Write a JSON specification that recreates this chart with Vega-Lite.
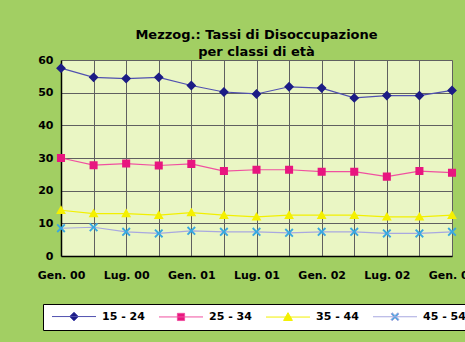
{
  "$schema": "https://vega.github.io/schema/vega-lite/v6.json",
  "autosize": "none",
  "width": 391,
  "height": 196,
  "padding": {"left": 61, "top": 60, "right": 13, "bottom": 86},
  "background": "#a2cf63",
  "title": {
    "text": ["Mezzog.: Tassi di Disoccupazione", "per classi di età"],
    "font": "DejaVu Sans",
    "fontSize": 13,
    "fontWeight": "bold",
    "lineHeight": 17,
    "color": "black",
    "anchor": "middle",
    "offset": -5
  },
  "config": {
    "view": {"fill": "#eaf6c4", "stroke": null},
    "axis": {
      "labelFont": "DejaVu Sans",
      "labelFontWeight": "bold",
      "labelFontSize": 11,
      "labelColor": "black",
      "gridColor": "#606060",
      "gridWidth": 1,
      "gridOpacity": 1,
      "domainColor": "black",
      "domainWidth": 1.5,
      "ticks": false,
      "title": null
    },
    "legend": {
      "title": null,
      "orient": "none",
      "direction": "horizontal",
      "legendX": -18,
      "legendY": 244,
      "fillColor": "white",
      "strokeColor": "black",
      "padding": 7,
      "symbolSize": 64,
      "symbolStrokeWidth": 1,
      "symbolOffset": 18.5,
      "labelOffset": 22.5,
      "columnPadding": 12,
      "labelFont": "DejaVu Sans",
      "labelFontWeight": "bold",
      "labelFontSize": 11,
      "labelColor": "black"
    }
  },
  "data": {
    "values": [
      {"periodo": "Gen. 00", "serie": "15 - 24", "valore": 57.5},
      {"periodo": "Apr. 00", "serie": "15 - 24", "valore": 54.7},
      {"periodo": "Lug. 00", "serie": "15 - 24", "valore": 54.3},
      {"periodo": "Ott. 00", "serie": "15 - 24", "valore": 54.7},
      {"periodo": "Gen. 01", "serie": "15 - 24", "valore": 52.2},
      {"periodo": "Apr. 01", "serie": "15 - 24", "valore": 50.2},
      {"periodo": "Lug. 01", "serie": "15 - 24", "valore": 49.6},
      {"periodo": "Ott. 01", "serie": "15 - 24", "valore": 51.8},
      {"periodo": "Gen. 02", "serie": "15 - 24", "valore": 51.4},
      {"periodo": "Apr. 02", "serie": "15 - 24", "valore": 48.4},
      {"periodo": "Lug. 02", "serie": "15 - 24", "valore": 49.1},
      {"periodo": "Ott. 02", "serie": "15 - 24", "valore": 49.1},
      {"periodo": "Gen. 03", "serie": "15 - 24", "valore": 50.7},
      {"periodo": "Gen. 00", "serie": "25 - 34", "valore": 30.0},
      {"periodo": "Apr. 00", "serie": "25 - 34", "valore": 27.8},
      {"periodo": "Lug. 00", "serie": "25 - 34", "valore": 28.3},
      {"periodo": "Ott. 00", "serie": "25 - 34", "valore": 27.7},
      {"periodo": "Gen. 01", "serie": "25 - 34", "valore": 28.2},
      {"periodo": "Apr. 01", "serie": "25 - 34", "valore": 26.0},
      {"periodo": "Lug. 01", "serie": "25 - 34", "valore": 26.4},
      {"periodo": "Ott. 01", "serie": "25 - 34", "valore": 26.4},
      {"periodo": "Gen. 02", "serie": "25 - 34", "valore": 25.8},
      {"periodo": "Apr. 02", "serie": "25 - 34", "valore": 25.8},
      {"periodo": "Lug. 02", "serie": "25 - 34", "valore": 24.3},
      {"periodo": "Ott. 02", "serie": "25 - 34", "valore": 26.0},
      {"periodo": "Gen. 03", "serie": "25 - 34", "valore": 25.5},
      {"periodo": "Gen. 00", "serie": "35 - 44", "valore": 14.0},
      {"periodo": "Apr. 00", "serie": "35 - 44", "valore": 13.0},
      {"periodo": "Lug. 00", "serie": "35 - 44", "valore": 13.0},
      {"periodo": "Ott. 00", "serie": "35 - 44", "valore": 12.5},
      {"periodo": "Gen. 01", "serie": "35 - 44", "valore": 13.3},
      {"periodo": "Apr. 01", "serie": "35 - 44", "valore": 12.5},
      {"periodo": "Lug. 01", "serie": "35 - 44", "valore": 12.0},
      {"periodo": "Ott. 01", "serie": "35 - 44", "valore": 12.5},
      {"periodo": "Gen. 02", "serie": "35 - 44", "valore": 12.5},
      {"periodo": "Apr. 02", "serie": "35 - 44", "valore": 12.5},
      {"periodo": "Lug. 02", "serie": "35 - 44", "valore": 12.0},
      {"periodo": "Ott. 02", "serie": "35 - 44", "valore": 12.0},
      {"periodo": "Gen. 03", "serie": "35 - 44", "valore": 12.5},
      {"periodo": "Gen. 00", "serie": "45 - 54", "valore": 8.5},
      {"periodo": "Apr. 00", "serie": "45 - 54", "valore": 8.8},
      {"periodo": "Lug. 00", "serie": "45 - 54", "valore": 7.4},
      {"periodo": "Ott. 00", "serie": "45 - 54", "valore": 6.9},
      {"periodo": "Gen. 01", "serie": "45 - 54", "valore": 7.7},
      {"periodo": "Apr. 01", "serie": "45 - 54", "valore": 7.4},
      {"periodo": "Lug. 01", "serie": "45 - 54", "valore": 7.4},
      {"periodo": "Ott. 01", "serie": "45 - 54", "valore": 7.1},
      {"periodo": "Gen. 02", "serie": "45 - 54", "valore": 7.4},
      {"periodo": "Apr. 02", "serie": "45 - 54", "valore": 7.4},
      {"periodo": "Lug. 02", "serie": "45 - 54", "valore": 6.9},
      {"periodo": "Ott. 02", "serie": "45 - 54", "valore": 6.9},
      {"periodo": "Gen. 03", "serie": "45 - 54", "valore": 7.4}
    ]
  },
  "encoding": {
    "x": {
      "field": "periodo",
      "type": "ordinal",
      "sort": null,
      "scale": {"type": "point", "padding": 0},
      "axis": {
        "labelAngle": 0,
        "labelPadding": 13,
        "grid": true,
        "labelOverlap": false,
        "labelExpr": "indexof(datum.label, 'Gen') === 0 || indexof(datum.label, 'Lug') === 0 ? datum.label : ''"
      }
    },
    "y": {
      "field": "valore",
      "type": "quantitative",
      "scale": {"domain": [0, 60], "nice": false},
      "axis": {"values": [0, 10, 20, 30, 40, 50, 60], "labelPadding": 8, "grid": true}
    }
  },
  "layer": [
    {
      "mark": {"type": "line", "strokeWidth": 1.2},
      "encoding": {
        "stroke": {
          "field": "serie",
          "type": "nominal",
          "scale": {
            "domain": ["15 - 24", "25 - 34", "35 - 44", "45 - 54"],
            "range": ["#5050b0", "#f050a0", "#f2f000", "#a8a8e0"]
          }
        }
      }
    },
    {
      "mark": {"type": "point", "filled": true, "size": 80, "opacity": 1},
      "encoding": {
        "color": {
          "field": "serie",
          "type": "nominal",
          "scale": {
            "domain": ["15 - 24", "25 - 34", "35 - 44", "45 - 54"],
            "range": ["#1c1c85", "#e8167f", "#f5f000", "#3aa8e0"]
          }
        },
        "shape": {
          "field": "serie",
          "type": "nominal",
          "scale": {
            "domain": ["15 - 24", "25 - 34", "35 - 44", "45 - 54"],
            "range": [
              "M-5.5,0L5.5,0M0,-1.1L1.1,0L0,1.1L-1.1,0Z",
              "M-5.5,0L5.5,0M-0.9,-0.9L0.9,-0.9L0.9,0.9L-0.9,0.9Z",
              "M-5.5,0L5.5,0M0,-1.1L1.1,0.85L-1.1,0.85Z",
              "M-5.5,0L5.5,0M-1,-0.7L-0.7,-1L0,-0.3L0.7,-1L1,-0.7L0.3,0L1,0.7L0.7,1L0,0.3L-0.7,1L-1,0.7L-0.3,0Z"
            ]
          }
        }
      }
    }
  ]
}
